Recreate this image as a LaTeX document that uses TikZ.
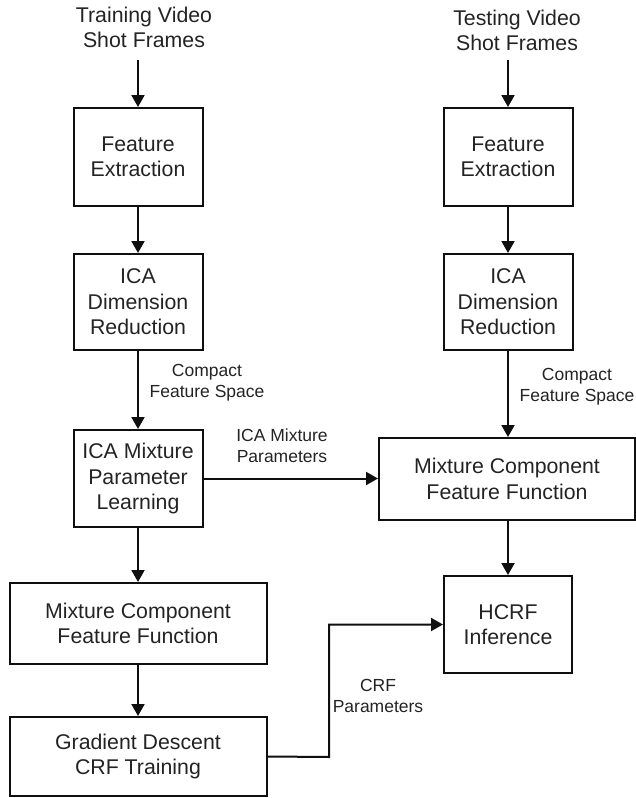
\documentclass[tikz,border=0pt]{standalone}
\usepackage{fontspec}
\setmainfont{Liberation Sans}
\usetikzlibrary{arrows.meta}
\definecolor{txtgray}{RGB}{35,35,35}
\definecolor{linegray}{RGB}{15,15,15}
\begin{document}
\begin{tikzpicture}[x=1pt,y=-1pt,
  box/.style={draw=linegray, line width=2pt, align=center, inner sep=0pt,
    font={\fontsize{21.3}{25.5}\selectfont}, text=txtgray},
  smallbox/.style={box, minimum width=129pt, minimum height=97pt},
  widebox/.style={box, minimum width=257pt, minimum height=81pt},
  toptext/.style={align=center, inner sep=0pt, font={\fontsize{21.3}{25}\selectfont}, text=txtgray},
  lbl/.style={align=center, inner sep=0pt, font={\fontsize{17.5}{21}\selectfont}, text=txtgray},
  arr/.style={-{Triangle[length=12pt,width=13pt]}, line width=2pt, draw=linegray}]
\useasboundingbox (0,0) rectangle (636,798);

% left column
\node[toptext] (t1) at (144,27.5) {Training Video\\Shot Frames};
\coordinate (in1) at (138,60);
\node[smallbox, minimum height=98pt] (fe1) at (138,157) {Feature\\Extraction};
\node[smallbox, minimum height=96pt] (dr1) at (138,302) {ICA\\Dimension\\Reduction};
\node[smallbox] (iml) at (138,478.5) {ICA Mixture\\Parameter\\Learning};
\node[widebox] (mcf1) at (138,623.5) {Mixture Component\\Feature Function};
\node[widebox, minimum height=79pt] (gd) at (138,756.5) {Gradient Descent\\CRF Training};

% right column
\node[toptext] (t2) at (517,30.5) {Testing Video\\Shot Frames};
\coordinate (in2) at (508,60);
\node[smallbox, minimum height=98pt] (fe2) at (508,157) {Feature\\Extraction};
\node[smallbox, minimum height=96pt] (dr2) at (508,302) {ICA\\Dimension\\Reduction};
\node[widebox, minimum width=256pt, minimum height=82pt] (mcf2) at (507,479) {Mixture Component\\Feature Function};
\node[smallbox, minimum width=128pt] (hcrf) at (508,624.5) {HCRF\\Inference};

% labels
\node[lbl] (cfs1) at (207,382.5) {Compact\\Feature Space};
\node[lbl] (cfs2) at (577,386.5) {Compact\\Feature Space};
\node[lbl] (imp) at (282,446) {ICA Mixture\\Parameters};
\node[lbl] (crf) at (378,696) {CRF\\Parameters};

% connectors
\draw[arr] (in1) -- (fe1);
\draw[arr] (fe1) -- (dr1);
\draw[arr] (dr1) -- (iml);
\draw[arr] (iml) -- (mcf1);
\draw[arr] (mcf1) -- (gd);
\draw[arr] (in2) -- (fe2);
\draw[arr] (fe2) -- (dr2);
\draw[arr] (dr2.south) -- (dr2.south |- mcf2.north);
\draw[arr] (mcf2.south -| hcrf.north) -- (hcrf.north);
\draw[arr] (iml.east) -- (iml.east -| mcf2.west);
\coordinate (elbow) at (329,757);
\draw[arr] (gd.east) -- (elbow) |- (hcrf.west);
\end{tikzpicture}
\end{document}
